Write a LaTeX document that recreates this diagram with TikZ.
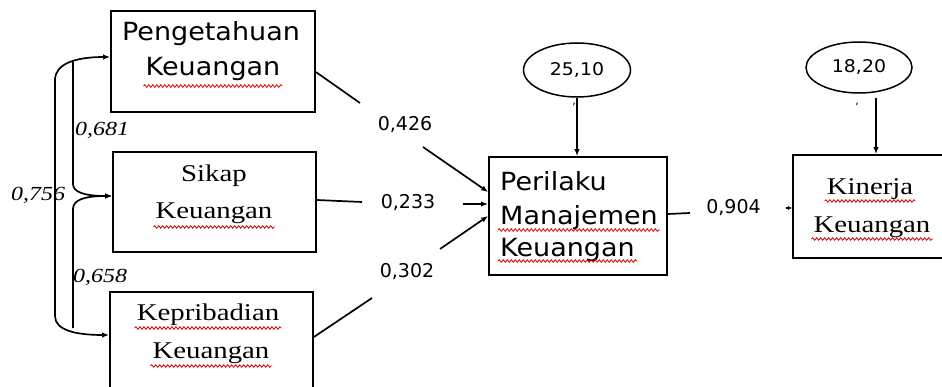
\documentclass[tikz,border=0pt]{standalone}
\usepackage{fontspec}
\setmainfont{Liberation Serif}
\newfontfamily\boxsans[FakeStretch=1.08]{DejaVu Sans}
\newfontfamily\numsans{DejaVu Sans}
\newfontfamily\boxserif[FakeStretch=1.2]{Liberation Serif}
\usetikzlibrary{arrows.meta,shapes.geometric,decorations.pathmorphing}

\begin{document}
\begin{tikzpicture}[x=1pt,y=-1pt,
  box/.style={draw, line width=1.8pt, inner sep=0pt},
  ell/.style={draw, ellipse, line width=1.5pt, inner sep=0pt,
    font=\boxsans\fontsize{17.5}{20}\selectfont},
  sanstxt/.style={inner sep=0pt, anchor=base, font=\boxsans\fontsize{25}{30}\selectfont},
  seriftxt/.style={inner sep=0pt, anchor=base, font=\boxserif\fontsize{24}{28}\selectfont},
  coef/.style={inner sep=0pt, font=\numsans\fontsize{19}{23}\selectfont},
  cov/.style={inner sep=0pt, font=\boxserif\itshape\fontsize{20}{24}\selectfont},
  link/.style={line width=1.7pt},
  tip/.style={-{Latex[length=7pt,width=5.5pt]}},
  bitip/.style={{Latex[length=7pt,width=5.5pt]}-{Latex[length=7pt,width=5.5pt]}},
  squig/.style={draw=red!90!black, line width=0.8pt, decorate,
    decoration={snake, amplitude=1.3pt, segment length=4pt}}
]
\useasboundingbox (0,0) rectangle (942,387);
\clip (0,0) rectangle (942,387);

% spell-check style wavy underline below a text node
\newcommand\wavy[2]{%
  \draw[squig] ([xshift=-2pt,yshift=-#2]#1.base west) -- ([xshift=2pt,yshift=-#2]#1.base east);}

% ---- boxes
\node[box, minimum width=204pt, minimum height=101pt] (peng) at (213,61.5) {};
\node[box, minimum width=203pt, minimum height=100pt] (sikap) at (214.5,202) {};
\node[box, minimum width=203pt, minimum height=120pt] (kep) at (211.5,352) {};
\node[box, minimum width=178pt, minimum height=118pt] (peri) at (578,216) {};
\node[box, minimum width=157pt, minimum height=103pt] (kin) at (871.5,206.5) {};

% ---- box texts
\node[sanstxt] (pengA) at (211,41) {Pengetahuan};
\node[sanstxt] (pengB) at (213,76) {Keuangan};
\wavy{pengB}{10pt}

\node[seriftxt] (sikapA) at (214,182) {Sikap};
\node[seriftxt] (sikapB) at (214,219) {Keuangan};
\wavy{sikapB}{8pt}

\node[seriftxt] (kepA) at (208,320) {Kepribadian};
\node[seriftxt] (kepB) at (211,358) {Keuangan};
\wavy{kepA}{8pt}
\wavy{kepB}{8pt}

\node[sanstxt, anchor=base west] (periA) at (500,191) {Perilaku};
\node[sanstxt, anchor=base west] (periB) at (500,225) {Manajemen};
\node[sanstxt, anchor=base west] (periC) at (500,257) {Keuangan};
\wavy{periB}{5pt}
\wavy{periC}{4pt}

\node[seriftxt] (kinA) at (870,195) {Kinerja};
\node[seriftxt] (kinB) at (872,233) {Keuangan};
\wavy{kinA}{6pt}
\wavy{kinB}{6pt}

% ---- error terms
\node[ell, minimum width=107pt, minimum height=54pt] (e1) at (577,70) {25,10};
\node[ell, minimum width=106pt, minimum height=51pt] (e2) at (859,67.5) {18,20};
\node[coef, font=\numsans\fontsize{11}{12}\selectfont] (m1) at (574,104) {,};
\node[coef, font=\numsans\fontsize{11}{12}\selectfont] (m2) at (857,104) {,};
\draw[link, tip] (e1.south) -- (e1.south |- peri.north);
\coordinate (e2foot) at (876,98);
\draw[link, tip] (e2foot) -- (e2foot |- kin.north);

% ---- path coefficients
\node[coef] (c426) at (405,125) {0,426};
\node[coef] (c233) at (408,203) {0,233};
\node[coef] (c302) at (407,272) {0,302};
\node[coef] (c904) at (733.5,208) {0,904};

\coordinate (g1a) at (360,103); \coordinate (g1b) at (423,147);
\draw[link] ([yshift=-10.5pt]peng.east) -- (g1a);
\draw[link, tip] (g1b) -- ([yshift=24pt]peri.west);

\coordinate (g2a) at (362,202); \coordinate (g2b) at (463,204);
\draw[link] ([yshift=2pt]sikap.east) -- (g2a);
\draw[link, tip] (g2b) -- ([yshift=12pt]peri.west);

\coordinate (g3a) at (372,298); \coordinate (g3b) at (440,249);
\draw[link] ([yshift=15pt]kep.east) -- (g3a);
\draw[link, tip] (g3b) -- (peri.west);

\coordinate (g4a) at (690,213); \coordinate (g4b) at (786,208);
\draw[link] ([yshift=2pt]peri.east) -- (g4a);
\draw[link, -{Latex[length=4pt,width=4pt]}] (g4b) -- ([yshift=-1.5pt]kin.west);

% ---- correlations between the exogenous variables
\coordinate (j1) at (73,62);
\coordinate (j2) at (73,328);
\draw[link, bitip] ([yshift=4.5pt]peng.west) .. controls (75,57) and (55,64) .. (55,80)
  -- (55,316) .. controls (55,330) and (75,335) .. ([yshift=17pt]kep.west);
\draw[link, tip] (j1) -- (73,184) .. controls (73,192) and (84,196) .. ([yshift=6pt]sikap.west);
\draw[link, tip] (j2) -- (73,209) .. controls (73,200) and (84,196) .. ([yshift=6pt]sikap.west);

\node[cov] (r681) at (102,130) {0,681};
\node[cov] (r658) at (100,277) {0,658};
\node[cov] (r756) at (38,195) {0,756};
\end{tikzpicture}
\end{document}
